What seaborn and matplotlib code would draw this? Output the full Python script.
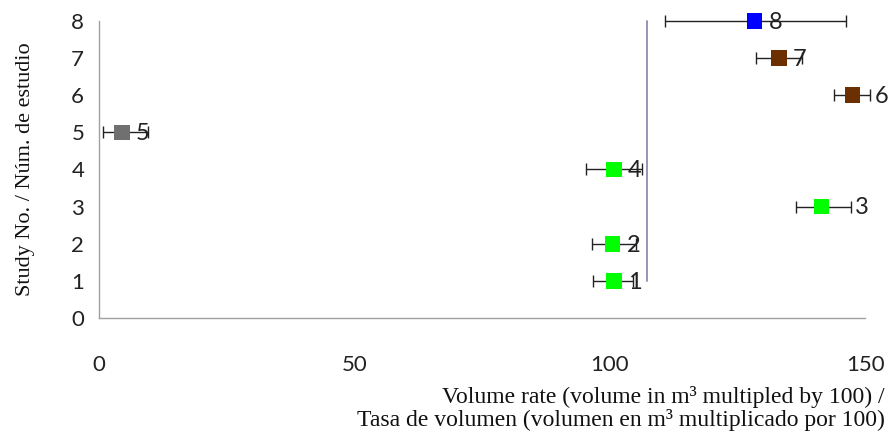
import pandas as pd
import matplotlib
import matplotlib.pyplot as plt
import seaborn as sns

matplotlib.use("Agg")

# Study data
study = [1, 2, 3, 4, 5, 6, 7, 8]
rate = [100.8, 100.6, 141.5, 100.8, 4.5, 147.5, 133.1, 128.4]
err_low = [96.7, 96.5, 136.4, 95.3, 0.8, 144.0, 128.7, 110.8]
err_high = [104.5, 105.1, 147.2, 106.3, 9.6, 151.0, 137.6, 146.2]
group = ["a", "a", "a", "a", "b", "c", "c", "d"]
palette = {"a": "#00ff00", "b": "#707070", "c": "#6b2f00", "d": "#0000ff"}

# reference line
ref_x = 107.4
ref_y = [1, 8]

df = pd.DataFrame({"study": study, "rate": rate, "lo": err_low, "hi": err_high, "group": group})

# studies whose number label sits past the error bar instead of on it
label_after_bar = {3, 6}

sns.set_style("white")
plt.rcParams["font.family"] = ["Lato", "DejaVu Sans"]

fig = plt.figure(figsize=(8.9, 4.36), dpi=100)
ax = fig.add_axes([0.111, 0.2706, 0.861, 0.6814])

ax.plot([ref_x, ref_x], ref_y, color="#8c8cb0", linewidth=1.3, zorder=1, clip_on=False)

eb = ax.errorbar(
    df["rate"],
    df["study"],
    xerr=[df["rate"] - df["lo"], df["hi"] - df["rate"]],
    fmt="none",
    ecolor="#222222",
    elinewidth=1.0,
    capsize=4,
    capthick=1.0,
    zorder=2,
)
for art in eb.lines[1] + eb.lines[2]:
    art.set_clip_on(False)

sns.scatterplot(
    data=df,
    x="rate",
    y="study",
    hue="group",
    palette=palette,
    marker="s",
    s=125,
    linewidth=0,
    legend=False,
    ax=ax,
    zorder=3,
    clip_on=False,
)

for _, row in df.iterrows():
    if row["study"] in label_after_bar:
        anchor, dx = row["hi"], 3
    else:
        anchor, dx = row["rate"], 10
    ax.annotate(
        str(row["study"]),
        (anchor, row["study"]),
        xytext=(dx, -1),
        textcoords="offset points",
        va="center",
        ha="left",
        fontsize=17,
        color="#222222",
        zorder=4,
        annotation_clip=False,
    )

ax.set_xlim(0, 150)
ax.set_ylim(0, 8)
ax.set_xticks([0, 50, 100, 150])
ax.set_yticks(range(0, 9))

for side in ["top", "right"]:
    ax.spines[side].set_visible(False)
for side in ["left", "bottom"]:
    ax.spines[side].set_color("#a0a0a0")
    ax.spines[side].set_linewidth(1.0)

ax.tick_params(axis="both", which="major", direction="out", length=6.5, width=1.0,
               color="#a0a0a0", labelsize=16, labelcolor="#222222")
ax.tick_params(axis="x", pad=20)
ax.tick_params(axis="y", pad=4)

serif = ["Liberation Serif", "DejaVu Serif"]
ax.set_ylabel("Study No. / Núm. de estudio", family=serif, fontsize=16, color="#111111", labelpad=26)
ax.set_xlabel("")
fig.text(
    0.994, 0.012,
    "Volume rate (volume in m³ multipled by 100) /\nTasa de volumen (volumen en m³ multiplicado por 100)",
    ha="right", va="bottom", family=serif, fontsize=17, color="#111111", linespacing=1.05,
)

fig.savefig("out.png", dpi=100)
plt.close(fig)
